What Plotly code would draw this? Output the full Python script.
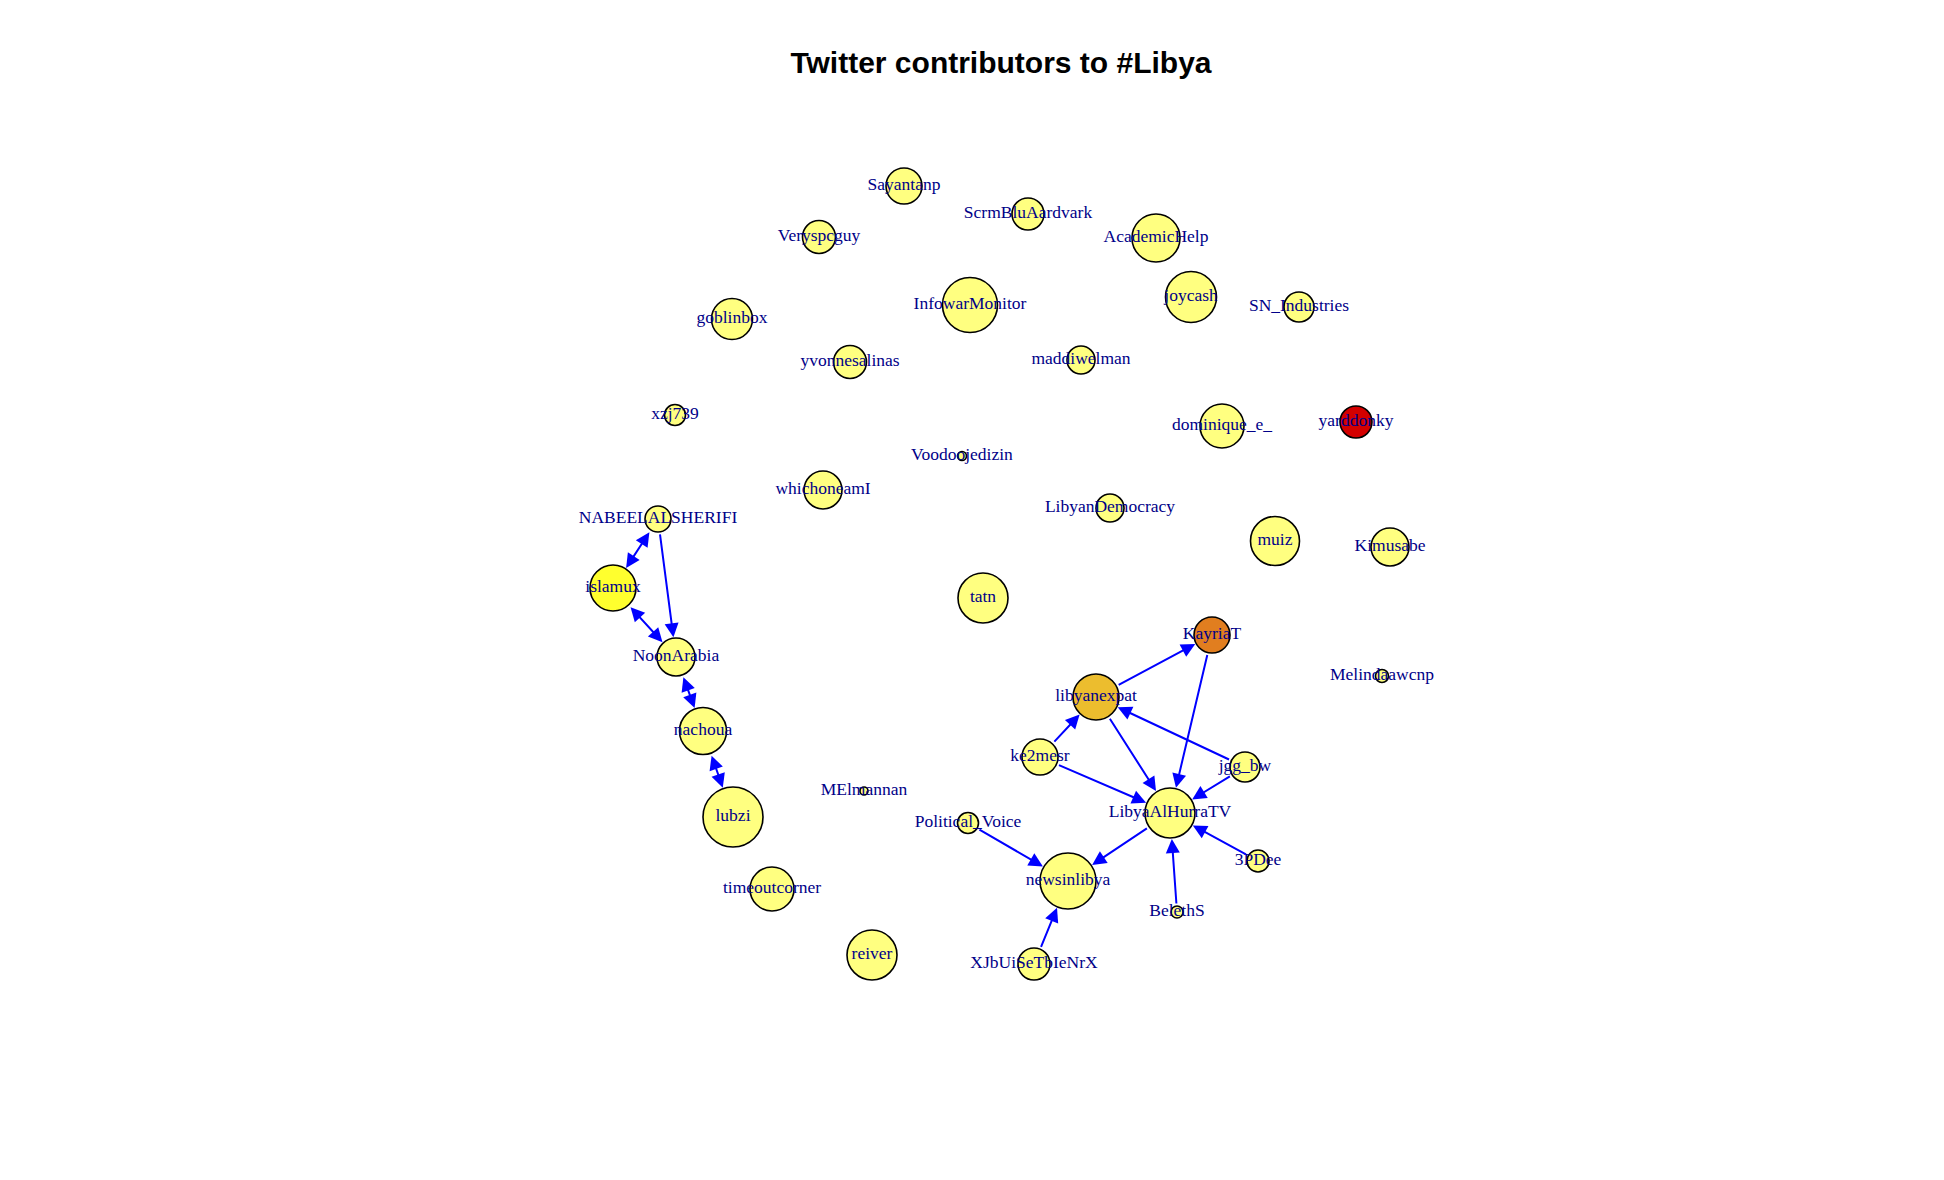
import plotly.graph_objects as go

# ---- data: network layout (layout units), vertex weight, heat level ----
names = ["Sayantanp", "ScrmBluAardvark", "Veryspcguy", "InfowarMonitor", "goblinbox",
         "yvonnesalinas", "xzj739", "Voodoojedizin", "whichoneamI", "AcademicHelp",
         "joycash", "SN_Industries", "maddiwelman", "dominique_e_", "yarddonky",
         "NABEELALSHERIFI", "islamux", "tatn", "NoonArabia", "nachoua", "ke2mesr",
         "MElmannan", "lubzi", "Political_Voice", "LibyanDemocracy", "muiz", "Kimusabe",
         "KayriaT", "Melindaawcnp", "libyanexpat", "jgg_bw", "LibyaAlHurraTV",
         "newsinlibya", "timeoutcorner", "reiver", "XJbUiSeTbIeNrX", "3PDee", "BelethS"]
node_x = [904, 1028, 819, 970, 732, 850, 675, 962, 823, 1156,
          1191, 1299, 1081, 1222, 1356, 658, 613, 983, 676, 703, 1040,
          864, 733, 968, 1110, 1275, 1390, 1212, 1382, 1096, 1245, 1170,
          1068, 772, 872, 1034, 1258, 1177]
node_y = [186, 214, 237, 305, 319, 362, 415, 456, 490, 238,
          297, 307, 360, 426, 422, 519, 588, 598, 657, 731, 757,
          791, 817, 823, 508, 541, 547, 635, 676, 697, 767, 813,
          881, 889, 955, 964, 861, 912]
node_weight = [36, 32, 33, 55, 41, 33, 21, 9, 38, 48,
               51, 30, 28, 44, 32, 26, 46, 50, 38, 47, 36,
               8, 60, 21, 28, 49, 38, 36, 13, 46, 30, 50,
               56, 44, 50, 32, 22, 12]
heat_level = [0, 0, 0, 0, 0, 0, 0, 0, 0, 0,
              0, 0, 0, 0, 4, 0, 1, 0, 0, 0, 0,
              0, 0, 0, 0, 0, 0, 3, 0, 2, 0, 0,
              0, 0, 0, 0, 0, 0]

edge_from = ["NABEELALSHERIFI", "NABEELALSHERIFI", "islamux", "NoonArabia", "nachoua",
             "libyanexpat", "ke2mesr", "libyanexpat", "KayriaT", "jgg_bw", "jgg_bw",
             "ke2mesr", "LibyaAlHurraTV", "Political_Voice", "XJbUiSeTbIeNrX",
             "3PDee", "BelethS"]
edge_to = ["islamux", "NoonArabia", "NoonArabia", "nachoua", "lubzi",
           "KayriaT", "libyanexpat", "LibyaAlHurraTV", "LibyaAlHurraTV", "libyanexpat",
           "LibyaAlHurraTV", "LibyaAlHurraTV", "newsinlibya", "newsinlibya",
           "newsinlibya", "LibyaAlHurraTV", "LibyaAlHurraTV"]
edge_mutual = [True, False, True, True, True,
               False, False, False, False, False, False,
               False, False, False, False, False, False]

title_text = "Twitter contributors to #Libya"

# ---- styling ----
heat_palette = ["#FFFF80", "#FFFF2E", "#ECBD2E", "#E17E1F", "#D40000"]
W, H = 1944, 1180
PAD = 8  # page body margin of the browser

idx = {n: i for i, n in enumerate(names)}
fig = go.Figure()

annotations = []
for s, t, both in zip(edge_from, edge_to, edge_mutual):
    i, j = idx[s], idx[t]
    annotations.append(dict(
        x=node_x[j], y=node_y[j], ax=node_x[i], ay=node_y[i],
        xref="x", yref="y", axref="x", ayref="y",
        text="", showarrow=True,
        arrowhead=2, startarrowhead=2, arrowsize=1.4, startarrowsize=1.4,
        arrowwidth=2, arrowcolor="#0000FF",
        arrowside="end+start" if both else "end",
        standoff=node_weight[j] / 2 + 1, startstandoff=node_weight[i] / 2 + 1,
    ))

fig.add_trace(go.Scatter(
    x=node_x, y=node_y, mode="markers",
    marker=dict(size=node_weight, color=[heat_palette[h] for h in heat_level],
                line=dict(color="black", width=1.6), opacity=1),
    hoverinfo="text", text=names, showlegend=False,
))
fig.add_trace(go.Scatter(
    x=node_x, y=node_y, mode="text", text=names, textposition="middle center",
    textfont=dict(family="Liberation Serif, Times New Roman, serif", size=17.5,
                  color="#000088"),
    hoverinfo="skip", showlegend=False,
))

fig.update_layout(
    width=W, height=H, autosize=False,
    margin=dict(l=0, r=0, t=0, b=0),
    paper_bgcolor="white", plot_bgcolor="white",
    xaxis=dict(range=[PAD, W + PAD], visible=False, fixedrange=True),
    yaxis=dict(range=[H + PAD, PAD], visible=False, fixedrange=True),
    title=dict(text="<b>" + title_text + "</b>", x=(1001 - PAD) / W, xanchor="center",
               y=1 - (62 - PAD) / H, yanchor="middle", yref="container",
               font=dict(family="Liberation Sans, Arial, sans-serif", size=30,
                         color="black")),
    annotations=annotations,
)

fig.write_html("out.html")
